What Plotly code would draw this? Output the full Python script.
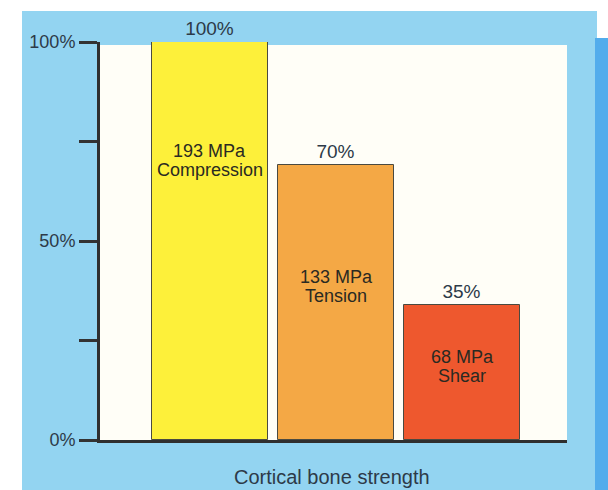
import plotly.graph_objects as go

# ---- data ----
categories = ["Compression", "Tension", "Shear"]
strength_pct = [100, 69, 34]          # bar heights (%)
top_labels = ["100%", "70%", "35%"]
inner_line1 = ["193 MPa", "133 MPa", "68 MPa"]
inner_line2 = ["Compression", "Tension", "Shear"]
inner_label_y = [70.3, 38.5, 18.5]
bar_colors = ["#fdf03a", "#f4a845", "#ee582e"]
tick_vals = [0, 25, 50, 75, 100]
tick_text = ["0%", "", "50%", "", "100%"]
x_title = "Cortical bone strength"

W, H = 608, 490
L, R, T, B = 100, 567, 42, 440   # plot area in pixels


def px(x):
    return (x - L) / (R - L)


def py(y):
    return (B - y) / (B - T)


font = "Liberation Sans, Arial, sans-serif"
txt = "#2d3a48"

fig = go.Figure()
fig.add_trace(go.Bar(
    x=categories, y=strength_pct,
    width=0.92,
    marker=dict(color=bar_colors, line=dict(color="#4a4a40", width=1)),
    text=top_labels, textposition="outside",
    textfont=dict(family=font, size=19, color=txt),
    cliponaxis=False, hoverinfo="skip",
))

for c, l1, l2, yv in zip(categories, inner_line1, inner_line2, inner_label_y):
    fig.add_annotation(x=c, y=yv, text=l1, showarrow=False, yshift=9.5,
                       font=dict(family=font, size=18, color="#2a2a22"))
    fig.add_annotation(x=c, y=yv, text=l2, showarrow=False, yshift=-9.5,
                       font=dict(family=font, size=18, color="#2a2a22"))

fig.add_annotation(xref="paper", yref="paper", x=px(332), y=py(464),
                   yanchor="top", text=x_title, showarrow=False,
                   font=dict(family=font, size=20, color=txt))

shapes = [
    # light blue background panel
    dict(type="rect", xref="paper", yref="paper", layer="below",
         x0=px(22), x1=px(597), y0=py(495), y1=py(11),
         fillcolor="#93d4f1", line=dict(width=0)),
    # darker blue strip on the right
    dict(type="rect", xref="paper", yref="paper", layer="below",
         x0=px(595), x1=px(612), y0=py(495), y1=py(38),
         fillcolor="#52acec", line=dict(width=0)),
    # cream plot area
    dict(type="rect", xref="paper", yref="paper", layer="below",
         x0=0, x1=1, y0=0, y1=py(45),
         fillcolor="#fffef7", line=dict(width=0)),
]

fig.update_layout(
    width=W, height=H,
    margin=dict(l=L, r=W - R, t=T, b=H - B, pad=0),
    paper_bgcolor="white", plot_bgcolor="rgba(0,0,0,0)",
    showlegend=False, shapes=shapes, bargap=0,
    xaxis=dict(range=[-0.87, 2.83], showticklabels=False, ticks="",
               showgrid=False, zeroline=False, showline=True,
               linecolor="#2f2f2f", linewidth=3),
    yaxis=dict(range=[0, 100], tickvals=tick_vals, ticktext=tick_text,
               ticks="outside", ticklen=18, tickwidth=3, tickcolor="#333333",
               showgrid=False, zeroline=False, showline=True,
               linecolor="#2f2f2f", linewidth=3,
               tickfont=dict(family=font, size=18, color=txt)),
)

fig.write_html("out.html")
